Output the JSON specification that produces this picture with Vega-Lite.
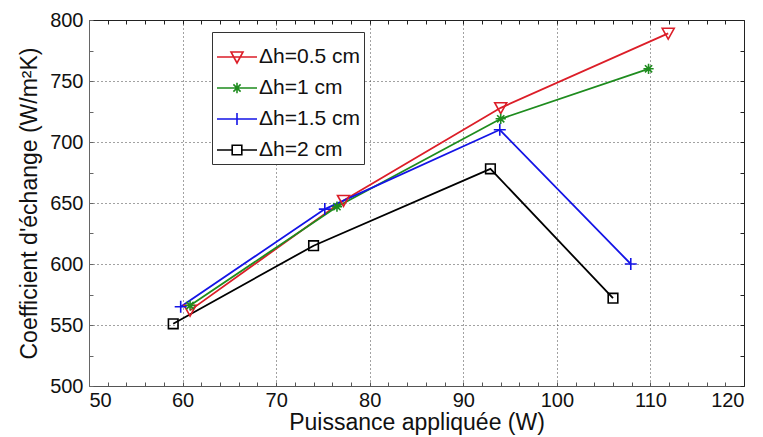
{
  "$schema": "https://vega.github.io/schema/vega-lite/v6.json",
  "width": 655,
  "height": 366,
  "autosize": {"type": "none"},
  "padding": {"left": 89, "top": 20, "right": 19, "bottom": 51},
  "background": "white",
  "config": {
    "view": {"stroke": null},
    "font": "Liberation Sans",
    "axis": {"labelFont": "Liberation Sans", "titleFont": "Liberation Sans", "labelFontSize": 20, "titleFontSize": 23, "titleFontWeight": "normal", "labelColor": "#111", "titleColor": "#111"},
    "legend": {
      "title": null, "orient": "none", "legendX": 123, "legendY": 12,
      "fillColor": "white", "strokeColor": "#333", "padding": 4,
      "symbolSize": 1600, "symbolStrokeWidth": 1.6,
      "labelFont": "Liberation Sans", "labelFontSize": 21, "labelColor": "#111", "labelOffset": 1,
      "rowPadding": -2
    }
  },
  "data": {
    "values": [
      {"p": 60.8, "h": 562, "s": "Δh=0.5 cm"},
      {"p": 77.2, "h": 652, "s": "Δh=0.5 cm"},
      {"p": 94.0, "h": 728, "s": "Δh=0.5 cm"},
      {"p": 111.9, "h": 789, "s": "Δh=0.5 cm"},
      {"p": 60.8, "h": 566, "s": "Δh=1 cm"},
      {"p": 76.5, "h": 647, "s": "Δh=1 cm"},
      {"p": 94.0, "h": 719, "s": "Δh=1 cm"},
      {"p": 109.8, "h": 760, "s": "Δh=1 cm"},
      {"p": 59.8, "h": 565, "s": "Δh=1.5 cm"},
      {"p": 75.2, "h": 645, "s": "Δh=1.5 cm"},
      {"p": 93.9, "h": 710, "s": "Δh=1.5 cm"},
      {"p": 107.9, "h": 600, "s": "Δh=1.5 cm"},
      {"p": 59.0, "h": 551, "s": "Δh=2 cm"},
      {"p": 74.0, "h": 615, "s": "Δh=2 cm"},
      {"p": 92.9, "h": 678, "s": "Δh=2 cm"},
      {"p": 106.0, "h": 572, "s": "Δh=2 cm"}
    ]
  },
  "resolve": {"axis": {"x": "independent", "y": "independent"}},
  "layer": [
    {
      "mark": {"type": "line", "strokeWidth": 1.8},
      "encoding": {
        "x": {
          "field": "p", "type": "quantitative",
          "scale": {"domain": [50, 120], "nice": false, "zero": false},
          "axis": {
            "orient": "bottom",
            "title": "Puissance appliquée (W)",
            "values": [50,52,54,56,58,60,62,64,66,68,70,72,74,76,78,80,82,84,86,88,90,92,94,96,98,100,102,104,106,108,110,112,114,116,118,120],
            "labelExpr": "datum.value % 10 === 0 ? datum.label : ''",
            "labelPadding": 8,
            "labelOverlap": false,
            "tickSize": -4,
            "tickColor": "#555",
            "domainColor": "#555",
            "grid": true,
            "gridColor": "#444",
            "gridDash": [1, 3],
            "gridOpacity": {"condition": {"test": "datum.value % 10 === 0 && datum.value > 50 && datum.value < 120", "value": 1}, "value": 0},
            "titlePadding": 1
          }
        },
        "y": {
          "field": "h", "type": "quantitative",
          "scale": {"domain": [500, 800], "nice": false, "zero": false},
          "axis": {
            "orient": "left",
            "title": "Coefficient d'échange (W/m²K)",
            "values": [500,525,550,575,600,625,650,675,700,725,750,775,800],
            "labelExpr": "datum.value % 50 === 0 ? datum.label : ''",
            "labelPadding": 10,
            "labelOverlap": false,
            "tickSize": -4,
            "tickColor": "#666",
            "domainColor": "#666",
            "grid": true,
            "gridColor": "#444",
            "gridDash": [1, 3],
            "gridOpacity": {"condition": {"test": "datum.value % 50 === 0 && datum.value > 500 && datum.value < 800", "value": 1}, "value": 0},
            "titlePadding": 8
          }
        },
        "color": {
          "field": "s", "type": "nominal",
          "scale": {"domain": ["Δh=0.5 cm", "Δh=1 cm", "Δh=1.5 cm", "Δh=2 cm"], "range": ["#dc1e28", "#1e8c1e", "#1414e6", "#000000"]},
          "legend": {
            "encoding": {"symbols": {
              "shape": {"condition": [
                {"test": "datum.value === 'Δh=0.5 cm'", "value": "M-1,0H1M-0.3,-0.25H0.3L0,0.3Z"},
                {"test": "datum.value === 'Δh=1 cm'", "value": "M-1,0H1M0,-0.26V0.26M-0.18,-0.18L0.18,0.18M-0.18,0.18L0.18,-0.18"},
                {"test": "datum.value === 'Δh=1.5 cm'", "value": "M-1,0H1M0,-0.3V0.3"}
              ], "value": "M-1,0H-0.24M0.24,0H1M-0.24,-0.24H0.24V0.24H-0.24Z"},
              "fill": {"value": "transparent"},
              "strokeWidth": {"value": 1.6}
            }}
          }
        }
      }
    },
    {
      "transform": [{"filter": "datum.s === 'Δh=0.5 cm'"}],
      "mark": {"type": "point", "filled": false, "strokeWidth": 1.6, "size": 144, "opacity": 1, "shape": "M-1,-0.85H1L0,0.95Z"},
      "encoding": {
        "x": {
          "field": "p", "type": "quantitative",
          "axis": {
            "orient": "top", "title": null, "labels": false, "grid": false,
            "values": [50,52,54,56,58,60,62,64,66,68,70,72,74,76,78,80,82,84,86,88,90,92,94,96,98,100,102,104,106,108,110,112,114,116,118,120],
            "tickSize": -4, "tickColor": "#222", "domainColor": "#222"
          }
        },
        "y": {
          "field": "h", "type": "quantitative",
          "axis": {
            "orient": "right", "title": null, "labels": false, "grid": false,
            "values": [500,525,550,575,600,625,650,675,700,725,750,775,800],
            "tickSize": -4, "tickColor": "#222", "domainColor": "#222"
          }
        },
        "color": {"field": "s", "type": "nominal"}
      }
    },
    {
      "transform": [{"filter": "datum.s === 'Δh=1 cm'"}],
      "mark": {"type": "point", "filled": false, "strokeWidth": 1.6, "size": 144, "opacity": 1, "shape": "M-0.85,0H0.85M0,-0.85V0.85M-0.6,-0.6L0.6,0.6M-0.6,0.6L0.6,-0.6"},
      "encoding": {
        "x": {"field": "p", "type": "quantitative", "axis": null},
        "y": {"field": "h", "type": "quantitative", "axis": null},
        "color": {"field": "s", "type": "nominal"}
      }
    },
    {
      "transform": [{"filter": "datum.s === 'Δh=1.5 cm'"}],
      "mark": {"type": "point", "filled": false, "strokeWidth": 1.6, "size": 144, "opacity": 1, "shape": "M-1,0H1M0,-1V1"},
      "encoding": {
        "x": {"field": "p", "type": "quantitative", "axis": null},
        "y": {"field": "h", "type": "quantitative", "axis": null},
        "color": {"field": "s", "type": "nominal"}
      }
    },
    {
      "transform": [{"filter": "datum.s === 'Δh=2 cm'"}],
      "mark": {"type": "point", "filled": false, "strokeWidth": 1.6, "size": 144, "opacity": 1, "shape": "M-0.8,-0.8H0.8V0.8H-0.8Z"},
      "encoding": {
        "x": {"field": "p", "type": "quantitative", "axis": null},
        "y": {"field": "h", "type": "quantitative", "axis": null},
        "color": {"field": "s", "type": "nominal"}
      }
    }
  ]
}
